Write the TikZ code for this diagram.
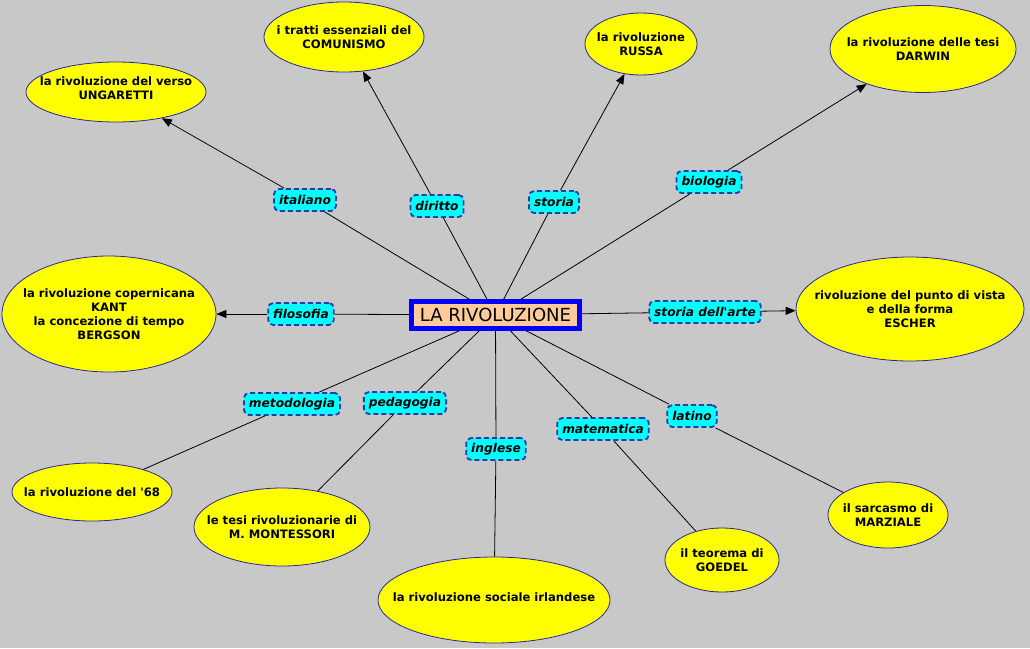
\documentclass[tikz,border=0pt]{standalone}
\usepackage{fontspec}
\setmainfont{DejaVu Sans}
\usetikzlibrary{shapes.geometric,arrows.meta}
\definecolor{bg}{RGB}{200,200,200}
\definecolor{ellfill}{RGB}{255,255,0}
\definecolor{ellline}{RGB}{40,40,150}
\definecolor{lblfill}{RGB}{0,255,255}
\definecolor{lblline}{RGB}{40,60,165}
\definecolor{ctrline}{RGB}{0,0,255}
\definecolor{ctrfill}{RGB}{255,204,153}
\tikzset{
  ell/.style={ellipse,draw=ellline,fill=ellfill,line width=0.8pt,inner sep=0pt},
  etext/.style={align=center,font=\fontsize{11.6}{14.2}\selectfont\bfseries,inner sep=0pt},
  lbl/.style={draw=lblline,fill=lblfill,line width=1.8pt,dash pattern=on 5pt off 3pt,
    rounded corners=5pt,minimum height=22pt,inner xsep=5pt,inner ysep=0pt,
    font=\fontsize{12.2}{14}\selectfont\bfseries\itshape},
  ctr/.style={draw=ctrline,fill=ctrfill,line width=4.5pt,minimum width=168pt,minimum height=27pt,
    inner sep=0pt,font=\fontsize{18}{20}\selectfont},
  conn/.style={draw=black,line width=0.8pt},
  arr/.style={conn,-{Triangle[length=10pt,width=8pt]}}
}
\begin{document}
\begin{tikzpicture}[x=1pt,y=-1pt]
\fill[bg] (0,0) rectangle (1030,648);
\useasboundingbox (0,0) rectangle (1030,648);

% ellipses
\node[ell,minimum width=180pt,minimum height=60pt] (e1) at (116,92) {};
\node[etext] (e1t) at (116,88) {la rivoluzione del verso\\UNGARETTI};
\node[ell,minimum width=160pt,minimum height=70pt] (e2) at (344,37) {};
\node[etext] (e2t) at (e2) {i tratti essenziali del\\COMUNISMO};
\node[ell,minimum width=112pt,minimum height=62pt] (e3) at (641,44) {};
\node[etext] (e3t) at (e3) {la rivoluzione\\RUSSA};
\node[ell,minimum width=186pt,minimum height=87pt] (e4) at (923,49) {};
\node[etext] (e4t) at (e4) {la rivoluzione delle tesi\\DARWIN};
\node[ell,minimum width=214pt,minimum height=116pt] (e5) at (109,314) {};
\node[etext] (e5t) at (e5) {la rivoluzione copernicana\\KANT\\la concezione di tempo\\BERGSON};
\node[ell,minimum width=228pt,minimum height=104pt] (e6) at (910,309) {};
\node[etext] (e6t) at (e6) {rivoluzione del punto di vista\\e della forma\\ESCHER};
\node[ell,minimum width=160pt,minimum height=58pt] (e7) at (92,492) {};
\node[etext] (e7t) at (e7) {la rivoluzione del \textquotesingle68};
\node[ell,minimum width=176pt,minimum height=78pt] (e8) at (282,527) {};
\node[etext] (e8t) at (e8) {le tesi rivoluzionarie di\\M. MONTESSORI};
\node[ell,minimum width=232pt,minimum height=86pt] (e9) at (494,600) {};
\node[etext] (e9t) at (494,597) {la rivoluzione sociale irlandese};
\node[ell,minimum width=114pt,minimum height=64pt] (e10) at (722,560) {};
\node[etext] (e10t) at (e10) {il teorema di\\GOEDEL};
\node[ell,minimum width=120pt,minimum height=66pt] (e11) at (888,515) {};
\node[etext] (e11t) at (e11) {il sarcasmo di\\MARZIALE};

% center
\node[ctr] (c) at (495.5,315) {LA RIVOLUZIONE};

% labels
\node[lbl] (l1) at (305,200) {italiano};
\node[lbl] (l2) at (437,206) {diritto};
\node[lbl] (l3) at (554,202) {storia};
\node[lbl] (l4) at (709,182) {biologia};
\node[lbl] (l5) at (301,314) {filosofia};
\node[lbl] (l6) at (705,312) {storia dell\textquotesingle arte};
\node[lbl] (l7) at (292,404) {metodologia};
\node[lbl] (l8) at (405,403) {pedagogia};
\node[lbl] (l9) at (496,449) {inglese};
\node[lbl] (l10) at (603,429) {matematica};
\node[lbl] (l11) at (692,416) {latino};

% connectors center -> labels
\draw[conn] (c) -- (l1);
\draw[conn] (c) -- (l2);
\draw[conn] (c) -- (l3);
\draw[conn] (c) -- (l4);
\draw[conn] (c) -- (l5);
\draw[conn] (c) -- (l6);
\draw[conn] (c) -- (l7);
\draw[conn] (c) -- (l8);
\draw[conn] (c) -- (l9);
\draw[conn] (c) -- (l10);
\draw[conn] (c) -- (l11);

% labels -> ellipses
\draw[arr] (l1) -- (e1);
\draw[arr] (l2) -- (e2);
\draw[arr] (l3) -- (e3);
\draw[arr] (l4) -- (e4);
\draw[arr] (l5) -- (e5);
\draw[arr] (l6) -- (e6);
\draw[conn] (l7) -- (e7);
\draw[conn] (l8) -- (e8);
\draw[conn] (l9) -- (e9);
\draw[conn] (l10) -- (e10);
\draw[conn] (l11) -- (e11);
\end{tikzpicture}
\end{document}
